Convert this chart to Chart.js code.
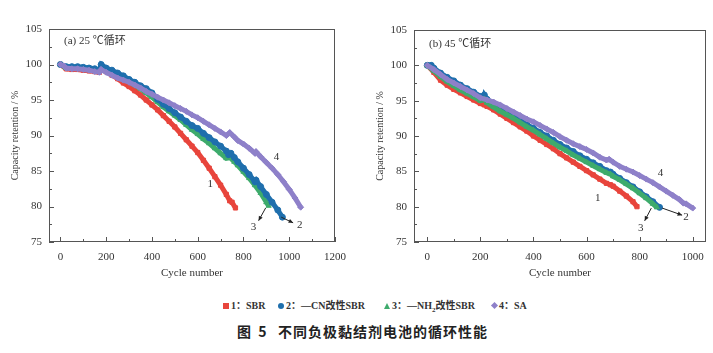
<!DOCTYPE html>
<html><head><meta charset="utf-8">
<script src="https://cdn.jsdelivr.net/npm/chart.js@4"></script>
<style>
html,body{margin:0;padding:0;background:#fff;width:713px;height:353px;overflow:hidden;position:relative}
#wrapL{position:absolute;left:0;top:0;width:355px;height:290px}
#wrapR{position:absolute;left:355px;top:0;width:358px;height:290px}
.panel{position:absolute;font:11px "Liberation Serif","Noto Sans CJK SC",serif;color:#333;line-height:12px;white-space:nowrap}
.leg{position:absolute;top:300px;font:bold 10px "Liberation Serif","Noto Sans CJK SC",serif;color:#333;line-height:12px;white-space:nowrap}
.mk{display:inline-block;vertical-align:middle;margin-right:2px;position:relative;top:-1px}
.cap{position:absolute;top:323px;font:bold 14px "Noto Sans CJK SC",sans-serif;color:#222;line-height:16px;white-space:nowrap}
</style></head>
<body>
<div id="wrapL"><canvas id="cL" width="355" height="290"></canvas></div>
<div id="wrapR"><canvas id="cR" width="358" height="290"></canvas></div>
<div class="panel" style="left:64px;top:34px">(a) 25 ℃循环</div>
<div class="panel" style="left:429px;top:37px">(b) 45 ℃循环</div>
<div class="leg" style="left:223px"><span class="mk" style="width:6px;height:6px;background:#e8453c"></span>1：SBR</div>
<div class="leg" style="left:278px"><span class="mk" style="width:6px;height:6px;border-radius:50%;background:#1f6fad"></span>2：—CN改性SBR</div>
<div class="leg" style="left:384px"><span class="mk" style="width:0;height:0;border-left:3.5px solid transparent;border-right:3.5px solid transparent;border-bottom:6px solid #3eab6c"></span>3：—NH<sub style="font-size:7px">2</sub>改性SBR</div>
<div class="leg" style="left:492px"><span class="mk" style="width:5px;height:5px;background:#8e80c9;transform:rotate(45deg)"></span>4：SA</div>
<div class="cap" style="left:237px;word-spacing:4px">图 5</div>
<div class="cap" style="left:278px;letter-spacing:1px">不同负极黏结剂电池的循环性能</div>
<script>
// ---------- data: 25 ℃ ----------
const L_SBR_X = [0,25,50,75,100,125,150,170,180,200,225,250,275,300,325,350,375,400,425,450,475,500,525,550,575,600,625,650,675,700,725,740,750,765];
const L_SBR_Y = [100,99.4,99.3,99.3,99.2,99.1,99.0,98.9,99.3,99.0,98.5,98.0,97.4,96.9,96.3,95.7,95.0,94.3,93.6,92.8,92.0,91.2,90.3,89.4,88.5,87.6,86.5,85.4,84.2,83.0,81.7,80.8,80.6,79.8];
const L_CN_X = [0,25,50,75,100,125,150,170,178,200,225,250,275,300,325,350,375,400,425,450,475,500,525,550,575,600,625,650,675,700,725,735,745,760,775,800,825,850,855,875,900,925,950,970];
const L_CN_Y = [100,99.7,99.7,99.7,99.6,99.5,99.4,99.2,100.0,99.5,99.2,98.8,98.4,97.9,97.5,97.0,96.6,96.0,95.1,94.4,93.8,93.2,92.6,92.0,91.4,91.0,90.3,89.7,89.1,88.5,87.8,87.3,87.5,86.9,86.3,85.4,84.5,83.5,83.7,82.8,81.7,80.6,79.5,78.5];
const L_NH_X = [0,25,50,75,100,125,150,170,178,200,225,250,275,300,325,350,375,400,425,450,475,500,525,550,575,600,625,650,675,700,725,740,760,775,800,825,850,875,900,910];
const L_NH_Y = [100,99.5,99.6,99.6,99.5,99.4,99.3,99.1,99.8,99.3,99.0,98.6,98.1,97.6,97.1,96.6,96.0,95.4,94.7,94.0,93.4,92.8,92.2,91.5,90.8,90.2,89.5,88.9,88.2,87.5,86.8,86.9,86.3,85.8,84.9,84.0,83.0,81.9,80.6,80.1];
const L_SA_X = [0,15,25,50,75,100,125,150,170,178,200,225,250,275,300,325,350,375,400,425,450,475,500,525,550,575,600,625,650,675,700,725,740,760,775,800,825,850,855,875,900,925,950,975,1000,1025,1050];
const L_SA_Y = [100,99.8,99.5,99.4,99.4,99.3,99.2,99.0,98.9,99.3,98.9,98.5,98.1,97.8,97.5,97.1,96.7,96.2,95.8,95.4,95.0,94.6,94.2,93.8,93.4,92.9,92.5,92.0,91.5,91.0,90.5,90.0,90.4,89.8,89.3,88.8,88.2,87.5,87.7,87.0,86.2,85.4,84.5,83.5,82.4,81.2,79.9];
// ---------- data: 45 ℃ ----------
const R_SBR_X = [0,25,50,75,100,125,150,175,200,215,225,250,275,300,325,350,375,400,425,450,475,500,525,550,575,600,625,650,675,690,700,725,750,775,790];
const R_SBR_Y = [100,99.0,97.9,97.2,96.6,96.1,95.6,95.1,94.6,94.4,94.2,93.7,93.1,92.5,91.9,91.3,90.7,90.0,89.4,88.8,88.2,87.5,86.9,86.3,85.7,85.1,84.5,83.9,83.3,83.1,82.9,82.2,81.5,80.7,80.0];
const R_CN_X = [0,15,25,50,75,100,125,150,175,200,212,215,225,250,275,300,325,350,375,400,425,450,475,500,525,550,575,600,625,650,675,690,700,725,750,775,800,825,850,875];
const R_CN_Y = [100,100,99.6,98.9,98.3,97.8,97.2,96.7,96.2,95.6,95.4,95.8,95.2,94.6,94.0,93.4,92.8,92.2,91.6,91.1,90.5,90.0,89.4,88.8,88.3,87.8,87.2,86.7,86.2,85.7,85.1,84.9,84.6,84.0,83.4,82.8,82.1,81.4,80.7,79.9];
const R_NH_X = [0,25,50,75,100,125,150,175,200,215,225,250,275,300,325,350,375,400,425,450,475,500,525,550,575,600,625,650,675,690,700,725,750,775,800,825,850,865];
const R_NH_Y = [100,99.2,98.4,97.7,97.1,96.5,96.0,95.5,95.0,95.2,94.7,94.1,93.5,93.0,92.5,91.9,91.3,90.8,90.2,89.6,89.0,88.4,87.9,87.3,86.8,86.3,85.8,85.3,84.8,84.6,84.3,83.8,83.2,82.6,81.9,81.2,80.4,79.9];
const R_SA_X = [0,25,50,75,100,125,150,175,200,225,250,275,300,325,350,375,400,425,450,475,500,525,550,575,600,625,650,675,685,700,725,750,775,800,825,850,875,900,925,950,965,975,1000];
const R_SA_Y = [100,99.4,98.7,98.0,97.5,97.0,96.5,96.0,95.4,95.1,94.8,94.4,93.9,93.4,92.9,92.4,92.0,91.5,91.0,90.5,89.9,89.4,88.9,88.5,88.1,87.6,87.0,86.6,86.7,86.3,85.7,85.3,84.9,84.4,83.9,83.4,82.8,82.2,81.6,81.0,80.5,80.4,79.8];
// ---------- ticks ----------
const L_X_TICKS = [0,200,400,600,800,1000,1200];
const L_X_MINOR = [100,300,500,700,900,1100];
const R_X_TICKS = [0,200,400,600,800,1000];
const R_X_MINOR = [100,300,500,700,900];
const Y_TICKS = [75,80,85,90,95,100,105];
const Y_MINOR = [77.5,82.5,87.5,92.5,97.5,102.5];
const SERIES_NAMES = ['1','2','3','4'];

const COLORS = ['#e8453c','#1f6fad','#3eab6c','#8e80c9'];
const STYLES = ['rect','circle','triangle','rectRot'];
const pts = (xs, ys) => xs.map((x,i)=>({x, y: ys[i]}));

function ds(i, xs, ys, order){
  return {label: SERIES_NAMES[i], data: pts(xs,ys), borderColor: COLORS[i], backgroundColor: COLORS[i],
    showLine: true, borderWidth: 5, pointStyle: STYLES[i], pointRadius: 3, pointBorderWidth: 1,
    pointBackgroundColor: COLORS[i], pointBorderColor: COLORS[i], tension: 0, order};
}

const framePlugin = {
  id: 'frame',
  afterDatasetsDraw(chart, args, o){
    const {ctx, chartArea: a, scales: {x, y}} = chart;
    ctx.save();
    ctx.strokeStyle = '#555'; ctx.lineWidth = 1;
    ctx.strokeRect(a.left + 0.5, a.top + 0.5, a.right - a.left - 1, a.bottom - a.top - 1);
    const seg = (x1,y1,x2,y2) => { ctx.beginPath(); ctx.moveTo(x1,y1); ctx.lineTo(x2,y2); ctx.stroke(); };
    o.xMajor.forEach(v => { const p = Math.round(x.getPixelForValue(v)) + 0.5; seg(p, a.bottom, p, a.bottom - 5); });
    o.xMinor.forEach(v => { const p = Math.round(x.getPixelForValue(v)) + 0.5; seg(p, a.bottom, p, a.bottom - 3); });
    o.yMajor.forEach(v => { const p = Math.round(y.getPixelForValue(v)) + 0.5; seg(a.left, p, a.left + 5, p); });
    o.yMinor.forEach(v => { const p = Math.round(y.getPixelForValue(v)) + 0.5; seg(a.left, p, a.left + 3, p); });
    ctx.fillStyle = '#333'; ctx.font = '11px "Liberation Serif", serif';
    ctx.textAlign = 'center'; ctx.textBaseline = 'middle';
    o.labels.forEach(l => ctx.fillText(l.t, x.getPixelForValue(l.x), y.getPixelForValue(l.y)));
    ctx.strokeStyle = '#222'; ctx.fillStyle = '#222';
    o.arrows.forEach(r => {
      const x1 = x.getPixelForValue(r.x1), y1 = y.getPixelForValue(r.y1);
      const x2 = x.getPixelForValue(r.x2), y2 = y.getPixelForValue(r.y2);
      seg(x1,y1,x2,y2);
      const ang = Math.atan2(y2-y1, x2-x1), L = 5;
      ctx.beginPath(); ctx.moveTo(x2,y2);
      ctx.lineTo(x2 - L*Math.cos(ang-0.45), y2 - L*Math.sin(ang-0.45));
      ctx.lineTo(x2 - L*Math.cos(ang+0.45), y2 - L*Math.sin(ang+0.45));
      ctx.closePath(); ctx.fill();
    });
    ctx.restore();
  }
};

const fontTick = {family: 'Liberation Serif', size: 11};
function makeChart(id, datasets, xmin, xmax, xTicks, xMinor, yWidth, pad, yTitlePad, labels, arrows){
  return new Chart(document.getElementById(id), {
    type: 'scatter',
    data: {datasets},
    plugins: [framePlugin],
    options: {
      responsive: false, animation: false, devicePixelRatio: 1,
      layout: {padding: pad},
      plugins: {legend: {display: false}, tooltip: {enabled: false},
        frame: {xMajor: xTicks, xMinor, yMajor: Y_TICKS, yMinor: Y_MINOR, labels, arrows}},
      scales: {
        x: {type: 'linear', min: xmin, max: xmax,
          afterBuildTicks: s => { s.ticks = xTicks.map(v => ({value: v})); },
          afterFit: s => { s.height = 48; },
          ticks: {font: fontTick, color: '#333', padding: 9, maxRotation: 0, autoSkip: false, callback: v => String(v)},
          grid: {display: false, drawTicks: false}, border: {display: false},
          title: {display: true, text: 'Cycle number', font: {family: 'Liberation Serif', size: 11}, color: '#333', padding: {top: 0, bottom: 10}}},
        y: {type: 'linear', min: 75, max: 105,
          afterBuildTicks: s => { s.ticks = Y_TICKS.map(v => ({value: v})); },
          afterFit: s => { s.width = yWidth; },
          ticks: {font: fontTick, color: '#333', padding: 7, autoSkip: false, callback: v => String(v)},
          grid: {display: false, drawTicks: false}, border: {display: false},
          title: {display: true, text: 'Capacity retention / %', font: {family: 'Liberation Serif', size: 10}, color: '#333', padding: {top: yTitlePad, bottom: 0}}}
      }
    }
  });
}

makeChart('cL', [
    ds(0, L_SBR_X, L_SBR_Y, 3), ds(2, L_NH_X, L_NH_Y, 2), ds(1, L_CN_X, L_CN_Y, 1), ds(3, L_SA_X, L_SA_Y, 0)
  ], -50, 1200, L_X_TICKS, L_X_MINOR, 49, {top: 29, right: 14, left: 0, bottom: 0}, 9,
  [{t:'4', x:944, y:86.9}, {t:'1', x:655, y:83.2}, {t:'3', x:844, y:77.1}, {t:'2', x:1046, y:77.4}],
  [{x1:897, y1:79.8, x2:866, y2:78.0}, {x1:965, y1:78.5, x2:1017, y2:77.7}]);

makeChart('cR', [
    ds(0, R_SBR_X, R_SBR_Y, 3), ds(1, R_CN_X, R_CN_Y, 2), ds(2, R_NH_X, R_NH_Y, 1), ds(3, R_SA_X, R_SA_Y, 0)
  ], -50, 1050, R_X_TICKS, R_X_MINOR, 59, {top: 30, right: 6, left: 0, bottom: 0}, 19,
  [{t:'4', x:879, y:84.7}, {t:'1', x:642, y:81.2}, {t:'3', x:804, y:77.0}, {t:'2', x:975, y:78.5}],
  [{x1:844, y1:79.8, x2:819, y2:78.0}, {x1:885, y1:79.8, x2:960, y2:78.8}]);
</script>
</body></html>
